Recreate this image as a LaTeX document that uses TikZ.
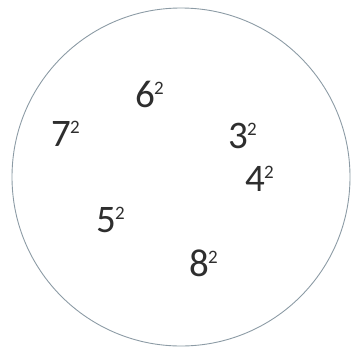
\documentclass[tikz,border=0pt]{standalone}
\usepackage{fontspec}
\setmainfont{Carlito}
\usepackage{xcolor}
\usetikzlibrary{positioning}
\definecolor{ringgray}{HTML}{8C9BA5}
\definecolor{numgray}{HTML}{2E2E2E}
\newcommand{\sqnum}[1]{#1\kern-0.8pt\raisebox{12.5pt}{\fontsize{19}{19}\selectfont 2}}

\begin{document}
\begin{tikzpicture}[
  x=1pt, y=-1pt,
  ring/.style={draw=ringgray, line width=0.9pt},
  square/.style={font=\fontsize{39}{42}\selectfont, text=numgray, inner sep=0pt, anchor=base west}
]
  \useasboundingbox (0,0) rectangle (352,348);

  % the set
  \node[ring, circle, minimum size=338pt, inner sep=0pt] (set) at (181,177) {};

  % squares inside it
  \node[square] (sq6) at (135,107) {\sqnum{6}};
  \node[square] (sq7) at (51,146) {\sqnum{7}};
  \node[square] (sq3) at (228,148) {\sqnum{3}};
  \node[square] (sq4) at (245,191) {\sqnum{4}};
  \node[square] (sq5) at (96,232) {\sqnum{5}};
  \node[square] (sq8) at (189,276) {\sqnum{8}};
\end{tikzpicture}
\end{document}
